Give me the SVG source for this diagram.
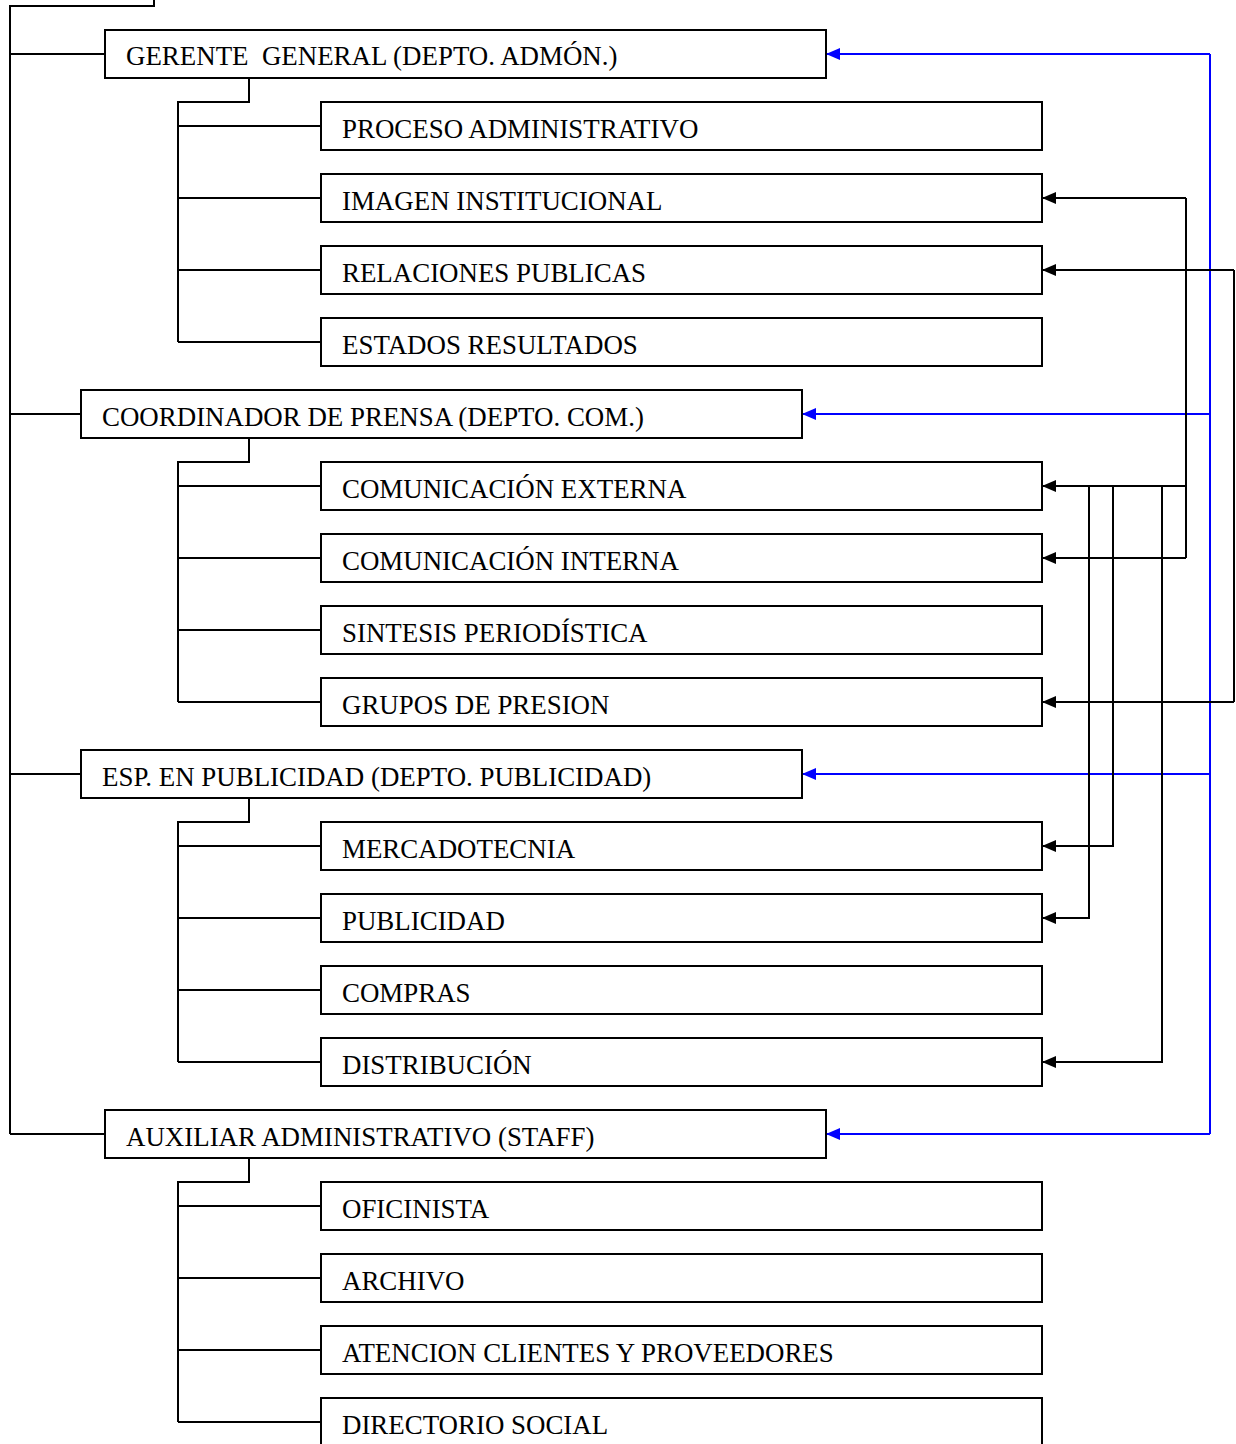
<svg xmlns="http://www.w3.org/2000/svg" width="1236" height="1444" viewBox="0 0 1236 1444">
<style>
.box{fill:#fff;stroke:#000;stroke-width:2}
.t{font-family:"Liberation Serif","Times New Roman",serif;font-size:26.9px;fill:#000}
.k{fill:none;stroke:#000;stroke-width:2}
.b{fill:none;stroke:#0000ff;stroke-width:2}
</style>
<defs>
<marker id="ak" markerWidth="14" markerHeight="12" refX="14" refY="6" orient="auto" markerUnits="userSpaceOnUse"><path d="M0,0 L14,6 L0,12 Z" fill="#000"/></marker>
<marker id="ab" markerWidth="14" markerHeight="12" refX="14" refY="6" orient="auto" markerUnits="userSpaceOnUse"><path d="M0,0 L14,6 L0,12 Z" fill="#0000ff"/></marker>
</defs>
<g id="connectors">
<path class="k" d="M154,0 V6 H10 V1134"/>
<path class="k" d="M10,54 H105 M10,414 H81 M10,774 H81 M10,1134 H105"/>
<path class="k" d="M249,78 V102 H178 V342 M178,126 H321 M178,198 H321 M178,270 H321 M178,342 H321"/>
<path class="k" d="M249,438 V462 H178 V702 M178,486 H321 M178,558 H321 M178,630 H321 M178,702 H321"/>
<path class="k" d="M249,798 V822 H178 V1062 M178,846 H321 M178,918 H321 M178,990 H321 M178,1062 H321"/>
<path class="k" d="M249,1158 V1182 H178 V1422 M178,1206 H321 M178,1278 H321 M178,1350 H321 M178,1422 H321"/>
<path class="b" d="M1210,54 V1134"/>
<path class="b" d="M1210,54 H826" marker-end="url(#ab)"/>
<path class="b" d="M1210,414 H802" marker-end="url(#ab)"/>
<path class="b" d="M1210,774 H802" marker-end="url(#ab)"/>
<path class="b" d="M1210,1134 H826" marker-end="url(#ab)"/>
<path class="k" d="M1186,198 V558"/>
<path class="k" d="M1186,198 H1042" marker-end="url(#ak)"/>
<path class="k" d="M1186,486 H1042" marker-end="url(#ak)"/>
<path class="k" d="M1186,558 H1042" marker-end="url(#ak)"/>
<path class="k" d="M1234,270 V702"/>
<path class="k" d="M1234,270 H1042" marker-end="url(#ak)"/>
<path class="k" d="M1234,702 H1042" marker-end="url(#ak)"/>
<path class="k" d="M1113,486 V846 H1042" marker-end="url(#ak)"/>
<path class="k" d="M1089,486 V918 H1042" marker-end="url(#ak)"/>
<path class="k" d="M1162,486 V1062 H1042" marker-end="url(#ak)"/>
</g>
<g id="n-gerente"><rect class="box" x="105" y="30" width="721" height="48"/><text class="t" x="126" y="65" xml:space="preserve">GERENTE  GENERAL (DEPTO. ADMÓN.)</text></g>
<g id="n-proceso"><rect class="box" x="321" y="102" width="721" height="48"/><text class="t" x="342" y="138">PROCESO ADMINISTRATIVO</text></g>
<g id="n-imagen"><rect class="box" x="321" y="174" width="721" height="48"/><text class="t" x="342" y="210">IMAGEN INSTITUCIONAL</text></g>
<g id="n-relaciones"><rect class="box" x="321" y="246" width="721" height="48"/><text class="t" x="342" y="282">RELACIONES PUBLICAS</text></g>
<g id="n-estados"><rect class="box" x="321" y="318" width="721" height="48"/><text class="t" x="342" y="354">ESTADOS RESULTADOS</text></g>
<g id="n-coordinador"><rect class="box" x="81" y="390" width="721" height="48"/><text class="t" x="102" y="426">COORDINADOR DE PRENSA (DEPTO. COM.)</text></g>
<g id="n-comext"><rect class="box" x="321" y="462" width="721" height="48"/><text class="t" x="342" y="498">COMUNICACIÓN EXTERNA</text></g>
<g id="n-comint"><rect class="box" x="321" y="534" width="721" height="48"/><text class="t" x="342" y="570">COMUNICACIÓN INTERNA</text></g>
<g id="n-sintesis"><rect class="box" x="321" y="606" width="721" height="48"/><text class="t" x="342" y="642">SINTESIS PERIODÍSTICA</text></g>
<g id="n-grupos"><rect class="box" x="321" y="678" width="721" height="48"/><text class="t" x="342" y="714">GRUPOS DE PRESION</text></g>
<g id="n-esp"><rect class="box" x="81" y="750" width="721" height="48"/><text class="t" x="102" y="786">ESP. EN PUBLICIDAD (DEPTO. PUBLICIDAD)</text></g>
<g id="n-mercadotecnia"><rect class="box" x="321" y="822" width="721" height="48"/><text class="t" x="342" y="858">MERCADOTECNIA</text></g>
<g id="n-publicidad"><rect class="box" x="321" y="894" width="721" height="48"/><text class="t" x="342" y="930">PUBLICIDAD</text></g>
<g id="n-compras"><rect class="box" x="321" y="966" width="721" height="48"/><text class="t" x="342" y="1002">COMPRAS</text></g>
<g id="n-distribucion"><rect class="box" x="321" y="1038" width="721" height="48"/><text class="t" x="342" y="1074">DISTRIBUCIÓN</text></g>
<g id="n-auxiliar"><rect class="box" x="105" y="1110" width="721" height="48"/><text class="t" x="126" y="1146">AUXILIAR ADMINISTRATIVO (STAFF)</text></g>
<g id="n-oficinista"><rect class="box" x="321" y="1182" width="721" height="48"/><text class="t" x="342" y="1218">OFICINISTA</text></g>
<g id="n-archivo"><rect class="box" x="321" y="1254" width="721" height="48"/><text class="t" x="342" y="1290">ARCHIVO</text></g>
<g id="n-atencion"><rect class="box" x="321" y="1326" width="721" height="48"/><text class="t" x="342" y="1362">ATENCION CLIENTES Y PROVEEDORES</text></g>
<g id="n-directorio"><rect class="box" x="321" y="1398" width="721" height="60"/><text class="t" x="342" y="1434">DIRECTORIO SOCIAL</text></g>
</svg>
